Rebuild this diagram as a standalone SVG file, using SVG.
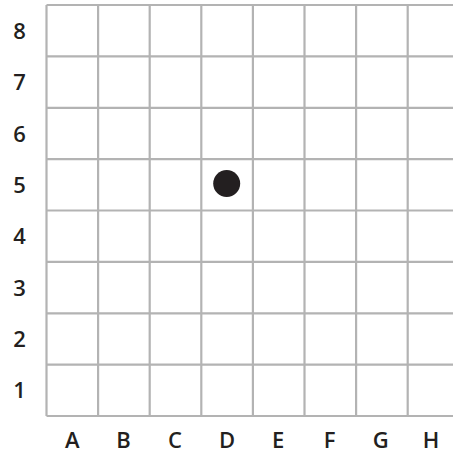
<svg xmlns="http://www.w3.org/2000/svg" width="453" height="456" viewBox="0 0 453 456">
<style>
.g{stroke:#b3b3b3;stroke-width:2.2;fill:none}
.t{font-family:"Open Sans","Noto Sans",sans-serif;font-size:22px;font-weight:600;fill:#231f20;text-anchor:middle}
</style>
<rect width="453" height="456" fill="#ffffff"/>
<g id="grid" class="g">
<path d="M46.5 5H453M46.5 56.4H453M46.5 107.8H453M46.5 159.1H453M46.5 210.5H453M46.5 261.9H453M46.5 313.3H453M46.5 364.6H453M46.5 416H453"/>
<path d="M46.5 5V416M98.1 5V416M149.7 5V416M201.3 5V416M252.9 5V416M304.5 5V416M356.1 5V416M407.7 5V416"/>
</g>
<circle id="dot" cx="226.7" cy="183.5" r="13.5" fill="#231f20"/>
<g id="rows" class="t">
<text x="19.5" y="38.8">8</text>
<text x="19.5" y="90.2">7</text>
<text x="19.5" y="141.6">6</text>
<text x="19.5" y="192.9">5</text>
<text x="19.5" y="244.3">4</text>
<text x="19.5" y="295.7">3</text>
<text x="19.5" y="347.1">2</text>
<text x="19.5" y="398.4">1</text>
</g>
<g id="cols" class="t">
<text x="72.3" y="447.5">A</text>
<text x="123.4" y="447.5">B</text>
<text x="175" y="447.5">C</text>
<text x="227.1" y="447.5">D</text>
<text x="278.2" y="447.5">E</text>
<text x="329.5" y="447.5">F</text>
<text x="380.8" y="447.5">G</text>
<text x="431" y="447.5">H</text>
</g>
</svg>
